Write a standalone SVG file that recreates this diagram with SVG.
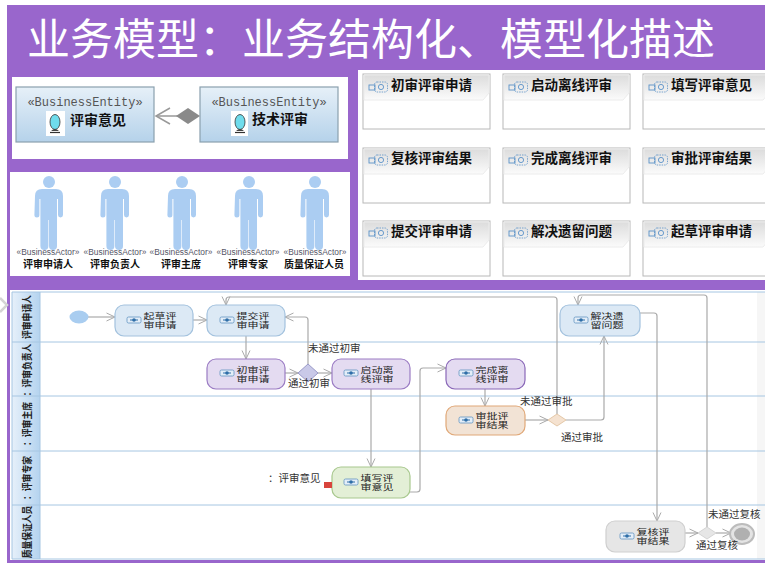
<svg xmlns="http://www.w3.org/2000/svg" width="765" height="563" viewBox="0 0 765 563">
<defs>
<linearGradient id="ent" x1="0" y1="0" x2="0" y2="1"><stop offset="0" stop-color="#e6f0f8"/><stop offset="1" stop-color="#b5d2ea"/></linearGradient>
<linearGradient id="hdr" x1="0" y1="0" x2="0" y2="1"><stop offset="0" stop-color="#dcdcdc"/><stop offset="1" stop-color="#fbfbfb"/></linearGradient>
<linearGradient id="lane" x1="0" y1="0" x2="1" y2="0"><stop offset="0" stop-color="#e6f0fa"/><stop offset="1" stop-color="#b4d3ef"/></linearGradient>
<marker id="arr" viewBox="0 0 10 10" refX="9.5" refY="5" markerWidth="10" markerHeight="10" orient="auto" markerUnits="userSpaceOnUse"><path d="M1 1L9.5 5L1 9" fill="none" stroke="#aaa" stroke-width="1"/></marker>
<g id="actor"><circle cx="0" cy="-7" r="6"/><path d="M-14 7q0-7 7-7h14q7 0 7 7v19a2.4 2.4 0 0 1-5 0v-16h-1v47a4 4 0 0 1-8 0v-26h-0.6v26a4 4 0 0 1-8 0v-47h-1v16a2.4 2.4 0 0 1-5 0z"/></g>
<g id="ic"><rect x="-7" y="-3" width="14" height="6" rx="1.5" fill="#e4eef8" stroke="#5f93c0" stroke-width="0.8"/><circle cx="0" cy="0" r="1.8" fill="#2f6fa8"/><path d="M-4 0h8" stroke="#2f6fa8"/></g>
<g id="cic"><rect x="-9" y="-2" width="6" height="5" fill="none" stroke="#5b92c8" stroke-width="0.9"/><rect x="-3.5" y="-5" width="13" height="10" rx="2.5" fill="none" stroke="#5b92c8" stroke-width="0.8" stroke-dasharray="1.5 1"/><circle cx="3" cy="0" r="2.6" fill="none" stroke="#5b92c8" stroke-width="0.9"/></g>
<g id="ball"><ellipse cx="0" cy="0" rx="5" ry="7.5" fill="#6fdcec" stroke="#333" stroke-width="0.8"/><path d="M-4 9q4-4 8 0z" fill="#444"/><path d="M-5 10.5h10" stroke="#333" stroke-width="1.2"/></g>
</defs>
<style>
text{font-family:"Noto Sans CJK SC","Liberation Sans",sans-serif;fill:#222}
.t{font-size:11px;text-anchor:middle}
.e{font-size:10.5px;fill:#333}
.c{font-size:13.5px;font-weight:700;fill:#111}
.ln{font-size:10px;text-anchor:middle;font-weight:700}
.n{stroke-width:1.2}
.cn path{fill:none;stroke:#aaa;stroke-width:1.2;marker-end:url(#arr)}
.la{stroke:#a6c6e2;stroke-width:1}
.card{fill:#fff;stroke:#b8b8b8;stroke-width:1}
.ch{fill:url(#hdr);stroke:#ececec}
.ba{font-size:8.4px;text-anchor:middle;font-family:"Liberation Sans",sans-serif;fill:#556}
.an{font-size:10px;font-weight:700;text-anchor:middle;fill:#111}
</style>
<rect width="765" height="563" fill="#fff"/>
<rect x="7" y="5" width="758" height="558" fill="#9966cc"/>
<path d="M0 298L7 305L0 312" fill="none" stroke="#d4d4d4" stroke-width="2.5"/>
<text x="27" y="55" font-size="43" style="fill:#fff">业务模型：业务结构化、模型化描述</text>

<g id="entities">
<rect x="12" y="77" width="336" height="82" fill="#fff"/>
<g id="entity-review"><rect x="16" y="87" width="138" height="55" fill="url(#ent)" stroke="#8aa0ae" stroke-width="1.2"/>
<text x="85" y="106" font-size="12" text-anchor="middle" style="font-family:'Liberation Mono',monospace;fill:#555">«BusinessEntity»</text>
<rect x="46" y="111" width="19" height="25" fill="#fff"/><use href="#ball" x="55" y="122"/>
<text x="70" y="125" font-size="14" font-weight="700" style="fill:#111">评审意见</text></g>
<g id="entity-tech"><rect x="200" y="87" width="138" height="55" fill="url(#ent)" stroke="#8aa0ae" stroke-width="1.2"/>
<text x="269" y="106" font-size="12" text-anchor="middle" style="font-family:'Liberation Mono',monospace;fill:#555">«BusinessEntity»</text>
<rect x="231" y="111" width="17" height="25" fill="#fff"/><use href="#ball" x="240" y="122"/>
<text x="252" y="124" font-size="14" font-weight="700" style="fill:#111">技术评审</text></g>
<g id="aggregation" fill="none" stroke="#999" stroke-width="1.5"><path d="M156 116H178"/><path d="M170 108L156 116L170 124"/><path d="M176 116L188 108L200 116L188 124z" fill="#8a8a8a" stroke="none"/></g>
</g>

<g id="actors">
<rect x="10" y="172" width="340" height="104" fill="#fff"/>
<g fill="#abcdf2"><use href="#actor" x="49" y="189"/><use href="#actor" x="115" y="189"/><use href="#actor" x="182" y="189"/><use href="#actor" x="249" y="189"/><use href="#actor" x="315" y="189"/></g>
<text class="ba" x="48" y="255">«BusinessActor»</text><text class="an" x="48" y="268">评审申请人</text>
<text class="ba" x="115" y="255">«BusinessActor»</text><text class="an" x="115" y="268">评审负责人</text>
<text class="ba" x="181" y="255">«BusinessActor»</text><text class="an" x="181" y="268">评审主席</text>
<text class="ba" x="248" y="255">«BusinessActor»</text><text class="an" x="248" y="268">评审专家</text>
<text class="ba" x="315" y="255">«BusinessActor»</text><text class="an" x="314" y="268">质量保证人员</text>
</g>

<g id="cards">
<rect x="358" y="70" width="407" height="210" fill="#fff"/>
<g id="c1"><rect class="card" x="363" y="74" width="127" height="55"/><path class="ch" d="M364 75H489V93L483 100H364z"/><use href="#cic" x="378" y="87"/><text class="c" x="391" y="90">初审评审申请</text></g>
<g id="c2"><rect class="card" x="503" y="74" width="127" height="55"/><path class="ch" d="M504 75H629V93L623 100H504z"/><use href="#cic" x="518" y="87"/><text class="c" x="531" y="90">启动离线评审</text></g>
<g id="c3"><rect class="card" x="643" y="74" width="127" height="55"/><path class="ch" d="M644 75H769V93L763 100H644z"/><use href="#cic" x="658" y="87"/><text class="c" x="671" y="90">填写评审意见</text></g>
<g id="c4"><rect class="card" x="363" y="148" width="127" height="55"/><path class="ch" d="M364 149H489V167L483 174H364z"/><use href="#cic" x="378" y="160"/><text class="c" x="391" y="163">复核评审结果</text></g>
<g id="c5"><rect class="card" x="503" y="148" width="127" height="55"/><path class="ch" d="M504 149H629V167L623 174H504z"/><use href="#cic" x="518" y="160"/><text class="c" x="531" y="163">完成离线评审</text></g>
<g id="c6"><rect class="card" x="643" y="148" width="127" height="55"/><path class="ch" d="M644 149H769V167L763 174H644z"/><use href="#cic" x="658" y="160"/><text class="c" x="671" y="163">审批评审结果</text></g>
<g id="c7"><rect class="card" x="363" y="221" width="127" height="55"/><path class="ch" d="M364 222H489V240L483 247H364z"/><use href="#cic" x="378" y="233"/><text class="c" x="391" y="236">提交评审申请</text></g>
<g id="c8"><rect class="card" x="503" y="221" width="127" height="55"/><path class="ch" d="M504 222H629V240L623 247H504z"/><use href="#cic" x="518" y="233"/><text class="c" x="531" y="236">解决遗留问题</text></g>
<g id="c9"><rect class="card" x="643" y="221" width="127" height="55"/><path class="ch" d="M644 222H769V240L763 247H644z"/><use href="#cic" x="658" y="233"/><text class="c" x="671" y="236">起草评审申请</text></g>
</g>

<g id="lanes">
<rect x="10" y="290" width="755" height="270" fill="#fff"/>
<rect x="757" y="292" width="8" height="267" fill="#f6f6f6"/>
<rect x="12" y="292" width="28" height="267" fill="url(#lane)"/>
<path class="la" d="M12 292H765M12 342H765M12 396H765M12 451H765M12 505H765M12 559H765M12 292V559M40 292V559"/>
<text class="ln" transform="translate(31,317) rotate(-90) scale(.88,1)">评审申请人</text>
<text class="ln" transform="translate(31,370) rotate(-90) scale(.88,1)">：评审负责人</text>
<text class="ln" transform="translate(31,424) rotate(-90) scale(.88,1)">：评审主席</text>
<text class="ln" transform="translate(31,478) rotate(-90) scale(.88,1)">：评审专家</text>
<text class="ln" transform="translate(31,532) rotate(-90) scale(.88,1)">质量保证人员</text>
</g>

<g id="connectors" class="cn">
<path d="M88 317H115"/><path d="M193 320H207"/><path d="M246 336V359"/><path d="M285 373H298"/><path d="M318 373H332"/>
<path d="M308 364V320q0-3-3-3H285"/><path d="M371 389V467"/>
<path d="M410 492H417q3 0 3-3V371q0-3 3-3H446"/><path d="M485 389V406"/><path d="M525 420H548"/>
<path d="M566 420H601q3 0 3-3V336"/>
<path d="M557 414V300q0-3-3-3H229q-3 0-3 3V305"/>
<path d="M640 313H654q3 0 3 3V521"/><path d="M685 533H698"/><path d="M716 533H731"/>
<path d="M707 527V298q0-3-3-3H581q-3 0-3 3V305"/>
</g>

<g id="n-start"><ellipse cx="79" cy="317" rx="9.5" ry="6.5" fill="#a9cdf0"/></g>
<g id="n-draft"><rect class="n" x="115" y="305" width="78" height="31" rx="9" fill="#dce9f5" stroke="#a3c2de"/><use href="#ic" x="134" y="320"/><text class="t" transform="translate(160,319) scale(1,.74)">起草评</text><text class="t" transform="translate(160,328) scale(1,.74)">审申请</text></g>
<g id="n-submit"><rect class="n" x="207" y="305" width="78" height="31" rx="9" fill="#dce9f5" stroke="#a3c2de"/><use href="#ic" x="227" y="320"/><text class="t" transform="translate(253,319) scale(1,.74)">提交评</text><text class="t" transform="translate(253,328) scale(1,.74)">审申请</text></g>
<g id="n-first"><rect class="n" x="207" y="359" width="78" height="30" rx="9" fill="#e4dbf1" stroke="#9b7cc4"/><use href="#ic" x="227" y="373"/><text class="t" transform="translate(253,373) scale(1,.74)">初审评</text><text class="t" transform="translate(253,382) scale(1,.74)">审申请</text></g>
<g id="n-d1"><path d="M298 373L308 364L318 373L308 382z" fill="#c9c9e8" stroke="#9a9ac8"/></g>
<g id="n-start-off"><rect class="n" x="332" y="359" width="78" height="30" rx="9" fill="#e4dbf1" stroke="#9b7cc4"/><use href="#ic" x="351" y="373"/><text class="t" transform="translate(377,373) scale(1,.74)">启动离</text><text class="t" transform="translate(377,382) scale(1,.74)">线评审</text></g>
<g id="n-fill"><rect class="n" x="332" y="467" width="78" height="31" rx="9" fill="#e3efd6" stroke="#a8c88e"/><use href="#ic" x="351" y="482"/><text class="t" transform="translate(377,481) scale(1,.74)">填写评</text><text class="t" transform="translate(377,490) scale(1,.74)">审意见</text><rect x="324" y="482" width="8" height="6" fill="#d8443c"/></g>
<g id="n-finish"><rect class="n" x="446" y="359" width="79" height="30" rx="9" fill="#e4dbf1" stroke="#8a68b8"/><use href="#ic" x="466" y="373"/><text class="t" transform="translate(492,373) scale(1,.74)">完成离</text><text class="t" transform="translate(492,382) scale(1,.74)">线评审</text></g>
<g id="n-approve"><rect class="n" x="446" y="406" width="79" height="29" rx="9" fill="#f2e3d5" stroke="#e0a878"/><use href="#ic" x="466" y="420"/><text class="t" transform="translate(492,419) scale(1,.74)">审批评</text><text class="t" transform="translate(492,428) scale(1,.74)">审结果</text></g>
<g id="n-d2"><path d="M548 420L557 414L566 420L557 426z" fill="#f5e2d0" stroke="#e4c8a8"/></g>
<g id="n-resolve"><rect class="n" x="560" y="305" width="80" height="31" rx="9" fill="#dce9f5" stroke="#a3c2de"/><use href="#ic" x="581" y="320"/><text class="t" transform="translate(607,319) scale(1,.74)">解决遗</text><text class="t" transform="translate(607,328) scale(1,.74)">留问题</text></g>
<g id="n-review"><rect class="n" x="606" y="521" width="79" height="31" rx="9" fill="#e6e6e6" stroke="#cfcfcf"/><use href="#ic" x="627" y="536"/><text class="t" transform="translate(653,535) scale(1,.74)">复核评</text><text class="t" transform="translate(653,544) scale(1,.74)">审结果</text></g>
<g id="n-d3"><path d="M698 533L707 527L716 533L707 539z" fill="#e6e6e6" stroke="#d4d4d4"/></g>
<g id="n-end"><ellipse cx="742" cy="534" rx="12" ry="10" fill="#e4e4e4" stroke="#bcbcbc" stroke-width="2"/><ellipse cx="742" cy="534" rx="8" ry="6.5" fill="#b0b0b0"/></g>

<g id="labels">
<text class="e" x="308" y="352">未通过初审</text><text class="e" x="288" y="387">通过初审</text>
<text class="e" x="520" y="405">未通过审批</text><text class="e" x="561" y="441">通过审批</text>
<text class="e" x="708" y="518">未通过复核</text><text class="e" x="696" y="549">通过复核</text>
<text class="e" x="268" y="482">：评审意见</text>
</g>
</svg>
